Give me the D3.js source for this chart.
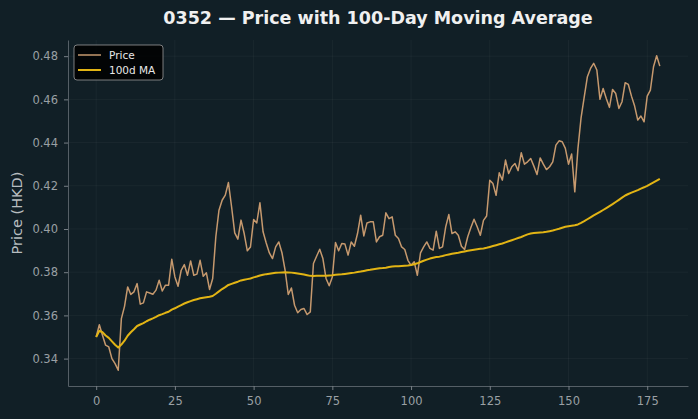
<!DOCTYPE html>
<html><head><meta charset="utf-8">
<script src="https://cdn.jsdelivr.net/npm/d3@7"></script>
<style>
html,body{margin:0;padding:0;background:#111f26;}
svg{display:block;font-family:"DejaVu Sans",sans-serif;}
</style></head><body>
<svg id="chart" width="698" height="419"></svg>
<script>
const title = "0352 — Price with 100-Day Moving Average";
const yLabel = "Price (HKD)";
const seriesNames = ["Price", "100d MA"];
const xTicks = [0, 25, 50, 75, 100, 125, 150, 175];
const yTicks = [0.34, 0.36, 0.38, 0.40, 0.42, 0.44, 0.46, 0.48];

const price = [
0.3500,0.3557,0.3508,0.3462,0.3454,0.3400,0.3377,0.3346,0.3585,0.3642,
0.3732,0.3697,0.3709,0.3747,0.3652,0.3658,0.3709,0.3704,0.3698,0.3717,
0.3763,0.3713,0.3740,0.3740,0.3860,0.3778,0.3735,0.3809,0.3835,0.3786,
0.3852,0.3786,0.3791,0.3855,0.3781,0.3797,0.3720,0.3771,0.3964,0.4087,
0.4133,0.4157,0.4215,0.4103,0.3982,0.3953,0.4041,0.3979,0.3899,0.3917,
0.4044,0.4028,0.4121,0.3987,0.3935,0.3889,0.3863,0.3917,0.3940,0.3890,
0.3809,0.3697,0.3727,0.3647,0.3612,0.3627,0.3632,0.3604,0.3616,0.3840,
0.3874,0.3906,0.3863,0.3771,0.3737,0.3778,0.3937,0.3899,0.3933,0.3930,
0.3879,0.3940,0.3920,0.3979,0.4064,0.3968,0.4028,0.4033,0.4033,0.3940,
0.3964,0.3971,0.4075,0.4048,0.4056,0.3971,0.3956,0.3917,0.3905,0.3855,
0.3832,0.3848,0.3786,0.3889,0.3917,0.3940,0.3910,0.3902,0.3990,0.3910,
0.3917,0.4010,0.4067,0.3979,0.3987,0.3971,0.3920,0.3905,0.3964,0.4007,
0.4045,0.4010,0.3971,0.4040,0.4060,0.4226,0.4210,0.4156,0.4260,0.4226,
0.4319,0.4257,0.4288,0.4303,0.4270,0.4353,0.4300,0.4311,0.4326,0.4291,
0.4252,0.4329,0.4300,0.4275,0.4288,0.4311,0.4388,0.4408,0.4404,0.4373,
0.4300,0.4347,0.4172,0.4373,0.4516,0.4612,0.4705,0.4743,0.4767,0.4736,
0.4600,0.4650,0.4604,0.4563,0.4646,0.4627,0.4558,0.4589,0.4677,0.4669,
0.4615,0.4569,0.4504,0.4523,0.4496,0.4615,0.4643,0.4751,0.4802,0.4754
];

const ma100 = [
0.3500,0.3529,0.3522,0.3507,0.3496,0.3480,0.3464,0.3451,0.3465,0.3483,
0.3506,0.3522,0.3536,0.3551,0.3558,0.3564,0.3573,0.3580,0.3586,0.3593,
0.3601,0.3606,0.3612,0.3617,0.3627,0.3633,0.3641,0.3648,0.3655,0.3661,
0.3666,0.3671,0.3675,0.3679,0.3682,0.3684,0.3686,0.3690,0.3700,0.3711,
0.3722,0.3731,0.3741,0.3746,0.3751,0.3756,0.3762,0.3765,0.3768,0.3771,
0.3776,0.3780,0.3785,0.3788,0.3791,0.3793,0.3795,0.3797,0.3798,0.3799,
0.3800,0.3799,0.3798,0.3796,0.3794,0.3792,0.3789,0.3786,0.3783,0.3782,
0.3783,0.3784,0.3784,0.3784,0.3785,0.3786,0.3788,0.3789,0.3790,0.3792,
0.3794,0.3796,0.3798,0.3801,0.3803,0.3806,0.3809,0.3811,0.3814,0.3816,
0.3818,0.3819,0.3821,0.3824,0.3826,0.3827,0.3828,0.3829,0.3830,0.3831,
0.3833,0.3837,0.3841,0.3847,0.3853,0.3858,0.3863,0.3867,0.3870,0.3872,
0.3875,0.3879,0.3882,0.3885,0.3888,0.3890,0.3893,0.3896,0.3899,0.3902,
0.3904,0.3906,0.3908,0.3910,0.3913,0.3917,0.3921,0.3925,0.3929,0.3933,
0.3938,0.3943,0.3948,0.3953,0.3958,0.3963,0.3969,0.3975,0.3979,0.3981,
0.3983,0.3984,0.3985,0.3987,0.3990,0.3993,0.3997,0.4001,0.4006,0.4010,
0.4013,0.4015,0.4017,0.4021,0.4028,0.4036,0.4045,0.4054,0.4063,0.4071,
0.4079,0.4088,0.4097,0.4106,0.4115,0.4125,0.4135,0.4145,0.4155,0.4162,
0.4168,0.4174,0.4180,0.4187,0.4193,0.4200,0.4208,0.4216,0.4224,0.4232
];

const W = 698, H = 419;
const m = {left: 68, right: 10, top: 40, bottom: 33};
const svg = d3.select("#chart");
svg.append("rect").attr("width", W).attr("height", H).attr("fill", "#111f26");

const n = price.length;
const xPad = (n - 1) * 0.05;
const x = d3.scaleLinear().domain([-xPad, n - 1 + xPad]).range([m.left, W - m.right]);
const yMin = d3.min(price.concat(ma100)), yMax = d3.max(price.concat(ma100));
const yPad = (yMax - yMin) * 0.05;
const y = d3.scaleLinear().domain([yMin - yPad, yMax + yPad]).range([H - m.bottom, m.top]);

// grid
const g = svg.append("g");
g.selectAll(".gx").data(xTicks).join("line")
  .attr("x1", d => x(d)).attr("x2", d => x(d))
  .attr("y1", m.top).attr("y2", H - m.bottom)
  .attr("stroke", "#ffffff").attr("stroke-opacity", 0.05).attr("stroke-width", 0.8);
g.selectAll(".gy").data(yTicks).join("line")
  .attr("y1", d => y(d)).attr("y2", d => y(d))
  .attr("x1", m.left).attr("x2", W - m.right)
  .attr("stroke", "#ffffff").attr("stroke-opacity", 0.05).attr("stroke-width", 0.8);

// axes
const xAxis = svg.append("g").attr("transform", `translate(0,${H - m.bottom})`)
  .call(d3.axisBottom(x).tickValues(xTicks).tickFormat(d3.format("d")).tickSize(4).tickPadding(7).tickSizeOuter(0));
const yAxis = svg.append("g").attr("transform", `translate(${m.left},0)`)
  .call(d3.axisLeft(y).tickValues(yTicks).tickFormat(d3.format(".2f")).tickSize(4).tickPadding(6).tickSizeOuter(0));
[xAxis, yAxis].forEach(a => {
  a.select(".domain").attr("stroke", "#555f66").attr("stroke-width", 1);
  a.selectAll(".tick line").attr("stroke", "#777f85");
  a.selectAll(".tick text").attr("fill", "#9aa0a4").style("font-size", "11.5px").style("font-family", "DejaVu Sans");
});

// lines
const line = d3.line().x((d, i) => x(i)).y(d => y(d));
svg.append("path").datum(price).attr("d", line)
  .attr("fill", "none").attr("stroke", "#c6996e").attr("stroke-width", 1.5).attr("stroke-linejoin", "round");
svg.append("path").datum(ma100).attr("d", line)
  .attr("fill", "none").attr("stroke", "#e2b414").attr("stroke-width", 2).attr("stroke-linejoin", "round");

// title & labels
svg.append("text").attr("x", (m.left + W - m.right) / 2).attr("y", 24)
  .attr("text-anchor", "middle").attr("fill", "#f0f0f0")
  .style("font-size", "17.5px").style("font-weight", "bold").text(title);
svg.append("text").attr("transform", `translate(22,${(m.top + H - m.bottom) / 2}) rotate(-90)`)
  .attr("text-anchor", "middle").attr("fill", "#b8bdc0").style("font-size", "14.5px").text(yLabel);

// legend
const lg = svg.append("g").attr("transform", "translate(74,45)");
lg.append("rect").attr("width", 89).attr("height", 35).attr("rx", 3)
  .attr("fill", "#000000").attr("fill-opacity", 0.85).attr("stroke", "#9a9a9a").attr("stroke-width", 0.8);
const colors = ["#c6996e", "#e2b414"];
const widths = [1.5, 2];
seriesNames.forEach((s, i) => {
  const yy = 10 + i * 15;
  lg.append("line").attr("x1", 4).attr("x2", 27).attr("y1", yy).attr("y2", yy)
    .attr("stroke", colors[i]).attr("stroke-width", widths[i]);
  lg.append("text").attr("x", 35).attr("y", yy + 4).attr("fill", "#e8e8e8")
    .style("font-size", "10.5px").text(s);
});
</script>
</body></html>
